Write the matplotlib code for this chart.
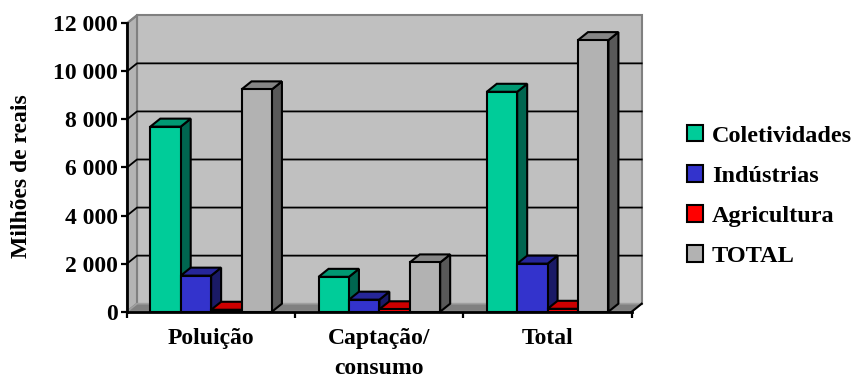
import matplotlib.pyplot as plt
from matplotlib.patches import Polygon, Patch

# data
categorias = ["Poluição", "Captação/\nconsumo", "Total"]
series = ["Coletividades", "Indústrias", "Agricultura", "TOTAL"]
coletividades = [7700, 1450, 9150]
industrias = [1500, 500, 2000]
agricultura = [80, 100, 120]
total = [9250, 2050, 11300]
yticks = [0, 2000, 4000, 6000, 8000, 10000, 12000]

valores = [coletividades, industrias, agricultura, total]

# front / top / side colours of each series
cores = [
    ("#00CC99", "#009973", "#006650"),
    ("#3333CC", "#262699", "#1A1A66"),
    ("#FF0000", "#CC0000", "#800000"),
    ("#B2B2B2", "#868686", "#595959"),
]

plt.rcParams["font.family"] = ["Liberation Serif", "DejaVu Serif"]
plt.rcParams["font.weight"] = "bold"

fig = plt.figure(figsize=(8.53, 3.78), dpi=100)
ax = fig.add_axes([0.14889, 0.17540, 0.59168, 0.76296])
ax.set_xlim(0, 3)
ax.set_ylim(0, 12000)
ax.patch.set_visible(False)

DX = 0.0594   # depth offset, x
DY = 333      # depth offset, y
ymax = yticks[-1]
ncat = len(categorias)

# walls and floor
back = Polygon([(DX, DY), (ncat + DX, DY), (ncat + DX, ymax + DY), (DX, ymax + DY)],
               closed=True, facecolor="#C0C0C0", edgecolor="#808080", lw=1.5,
               clip_on=False, zorder=0)
ax.add_patch(back)
side = Polygon([(0, 0), (DX, DY), (DX, ymax + DY), (0, ymax)], closed=True,
               facecolor="#B4B4B4", edgecolor="#808080", lw=1.5, clip_on=False, zorder=0)
ax.add_patch(side)
floor = Polygon([(0, 0), (ncat, 0), (ncat + DX, DY), (DX, DY)], closed=True,
                facecolor="#808080", edgecolor="#A0A0A0", lw=1.2, clip_on=False, zorder=1)
ax.add_patch(floor)
ax.plot([ncat, ncat + DX], [0, DY], color="black", lw=1.5, clip_on=False, zorder=2)

# gridlines on side and back wall
for v in yticks[1:-1]:
    ax.plot([0, DX, ncat + DX], [v, v + DY, v + DY], color="black", lw=1.3,
            clip_on=False, zorder=1)
ax.plot([0, DX], [ymax, ymax + DY], color="#808080", lw=1.5, clip_on=False, zorder=1)

# 3d bars
grupo = 0.723
w = grupo / len(series)
for j in range(ncat):
    for i, vals in enumerate(valores):
        h = vals[j]
        x0 = j + 0.5 - grupo / 2 + i * w
        frente, topo, lado = cores[i]
        face_lado = Polygon([(x0 + w, 0), (x0 + w + DX, DY), (x0 + w + DX, h + DY), (x0 + w, h)],
                            closed=True, facecolor=lado, edgecolor="black", lw=1.5,
                            clip_on=False, zorder=3)
        face_topo = Polygon([(x0, h), (x0 + w, h), (x0 + w + DX, h + DY), (x0 + DX, h + DY)],
                            closed=True, facecolor=topo, edgecolor="black", lw=1.5,
                            clip_on=False, zorder=3)
        face = Polygon([(x0, 0), (x0 + w, 0), (x0 + w, h), (x0, h)], closed=True,
                       facecolor=frente, edgecolor="black", lw=1.5, clip_on=False, zorder=3)
        ax.add_patch(face_lado)
        ax.add_patch(face_topo)
        ax.add_patch(face)

# axes
for s in ["top", "right"]:
    ax.spines[s].set_visible(False)
ax.spines["left"].set_linewidth(2)
ax.spines["bottom"].set_linewidth(2)
ax.spines["left"].set_zorder(5)
ax.spines["bottom"].set_zorder(5)

ax.set_yticks(yticks)
ax.set_yticklabels([f"{v:,}".replace(",", " ") for v in yticks])
ax.tick_params(axis="y", length=4.5, width=1.6, pad=2, labelsize=17)

ax.set_xticks(range(ncat + 1))
ax.set_xticklabels([])
ax.tick_params(axis="x", which="major", length=4.5, width=1.6)
ax.set_xticks([k + 0.5 for k in range(ncat)], minor=True)
ax.set_xticklabels(categorias, minor=True, fontsize=17, linespacing=1.55)
ax.tick_params(axis="x", which="minor", length=0, pad=12)

ax.set_ylabel("Milhões de reais", fontsize=17, fontweight="bold")
ax.yaxis.set_label_coords(-0.188, 0.47)

handles = [Patch(facecolor=c[0], edgecolor="black", lw=1.5) for c in cores]
fig.legend(handles, series, loc="center left", bbox_to_anchor=(0.805, 0.482),
           frameon=False, fontsize=17.5, handlelength=0.68, handleheight=0.68,
           handletextpad=0.35, labelspacing=0.75, borderaxespad=0, borderpad=0)

fig.savefig("out.png", dpi=100)
